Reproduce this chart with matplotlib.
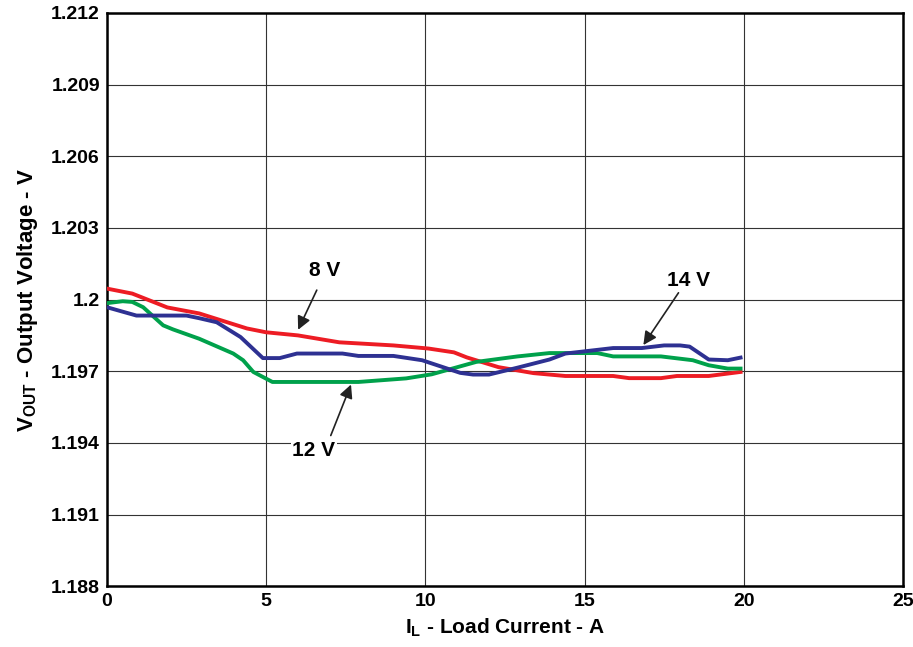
import numpy as np
import matplotlib
matplotlib.use("Agg")
import matplotlib.pyplot as plt

# load current (A) and output voltage (V)
x_8v = [0, 0.8, 1.9, 2.9, 4.4, 5.0, 6.0, 7.3, 9.0, 10.1, 10.9, 11.3, 12.3, 13.4,
        14.4, 15.9, 16.4, 17.4, 17.9, 18.9, 19.9]
v_8v = [1.20046, 1.20025, 1.19967, 1.19942, 1.19879, 1.19863, 1.19850, 1.19821,
        1.19808, 1.19795, 1.19779, 1.19758, 1.19717, 1.19692, 1.19680, 1.19680,
        1.19671, 1.19671, 1.19680, 1.19680, 1.19697]

x_12v = [0, 0.5, 0.8, 1.14, 1.77, 2.08, 2.9, 3.97, 4.28, 4.6, 5.2, 7.9, 9.4, 10.2,
         11.6, 12.9, 13.9, 15.4, 15.9, 17.4, 18.4, 18.9, 19.5, 19.9]
v_12v = [1.19985, 1.19993, 1.19990, 1.19968, 1.19892, 1.19875, 1.19836, 1.19774,
         1.19746, 1.19697, 1.19655, 1.19655, 1.19670, 1.19687, 1.19739, 1.19762,
         1.19776, 1.19776, 1.19762, 1.19762, 1.19746, 1.19725, 1.19711, 1.19711]

x_14v = [0, 0.93, 2.5, 2.9, 3.45, 4.2, 4.9, 5.43, 5.97, 7.4, 7.9, 9.0, 9.9, 11.1,
         11.5, 12.0, 12.9, 13.9, 14.4, 15.9, 16.8, 17.5, 18.0, 18.3, 18.9, 19.5, 19.9]
v_14v = [1.19968, 1.19933, 1.19933, 1.19922, 1.19905, 1.19843, 1.19755, 1.19755,
         1.19774, 1.19774, 1.19764, 1.19764, 1.19746, 1.19693, 1.19686, 1.19686,
         1.19715, 1.19749, 1.19774, 1.19797, 1.19797, 1.19808, 1.19808, 1.19803,
         1.19749, 1.19746, 1.19757]

x_ticks = [0, 5, 10, 15, 20, 25]
y_ticks = [1.188, 1.191, 1.194, 1.197, 1.2, 1.203, 1.206, 1.209, 1.212]
y_tick_labels = ["1.188", "1.191", "1.194", "1.197", "1.2", "1.203", "1.206",
                 "1.209", "1.212"]

RED = "#ED1C24"
GREEN = "#00A14B"
BLUE = "#2E3192"

plt.rcParams["font.family"] = ["Liberation Sans", "DejaVu Sans"]
plt.rcParams["font.weight"] = "bold"
plt.rcParams["mathtext.default"] = "regular"

fig = plt.figure(figsize=(9.13, 6.47), dpi=100)
ax = fig.add_axes([0.117, 0.094, 0.872, 0.886])

ax.plot(x_8v, v_8v, color=RED, linewidth=2.8, zorder=3)
ax.plot(x_12v, v_12v, color=GREEN, linewidth=2.8, zorder=3)
ax.plot(x_14v, v_14v, color=BLUE, linewidth=2.8, zorder=4)

ax.set_xlim(0, 25)
ax.set_ylim(1.188, 1.212)
ax.set_xticks(x_ticks)
ax.set_yticks(y_ticks)
ax.set_yticklabels(y_tick_labels)
ax.tick_params(length=0, labelsize=14, pad=5)
for lab in ax.get_xticklabels() + ax.get_yticklabels():
    lab.set_fontweight("bold")

ax.grid(True, color="#333333", linewidth=0.8)
for s in ax.spines.values():
    s.set_linewidth(1.8)

ax.set_xlabel(r"I$_{\mathregular{L}}$ - Load Current - A", fontsize=15,
              fontweight="bold", labelpad=5)
ax.set_ylabel(r"V$_{\mathregular{OUT}}$ - Output Voltage - V", fontsize=16,
              fontweight="bold", labelpad=8)

arrow = dict(arrowstyle="-|>", color="#222222", linewidth=1.2, mutation_scale=20)
ax.annotate("", xy=(5.97, 1.19863), xytext=(6.63, 1.2005), arrowprops=arrow)
ax.text(6.85, 1.2012, "8 V", fontsize=15, fontweight="bold", ha="center", va="center")

ax.annotate("", xy=(16.8, 1.19800), xytext=(18.0, 1.20038), arrowprops=arrow)
ax.text(18.25, 1.2008, "14 V", fontsize=15, fontweight="bold", ha="center", va="center")

ax.annotate("", xy=(7.7, 1.19655), xytext=(7.0, 1.1942), arrowprops=arrow)
ax.text(6.5, 1.19370, "12 V", fontsize=15, fontweight="bold", ha="center", va="center",
        bbox=dict(facecolor="white", edgecolor="none", pad=1))

fig.savefig("out.png", dpi=100)
